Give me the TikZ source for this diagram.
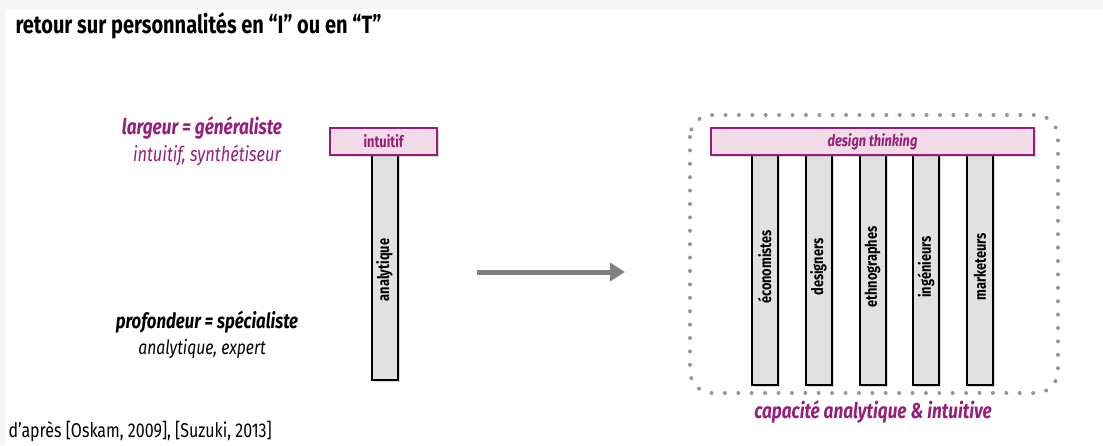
\documentclass[tikz,border=0pt]{standalone}
\usepackage{fontspec}
\setmainfont{Fira Sans}[FakeStretch=0.8]
\usepackage{tikz}
\usetikzlibrary{arrows.meta,shadows}

\definecolor{plum}{RGB}{150,30,120}
\definecolor{pinkfill}{RGB}{241,219,231}
\definecolor{stemgray}{RGB}{225,225,225}
\definecolor{arrowgray}{RGB}{128,128,131}
\definecolor{dotgray}{RGB}{150,150,152}

\begin{document}
\begin{tikzpicture}[x=1pt, y=-1pt,
    barbox/.style={draw=plum, line width=2.2pt, fill=pinkfill, minimum height=27, inner sep=0pt,
        drop shadow={shadow xshift=2pt, shadow yshift=-2pt, opacity=0.3}},
    stembox/.style={draw=black, line width=2pt, fill=stemgray, minimum width=26, inner sep=0pt,
        drop shadow={shadow xshift=2pt, shadow yshift=-2pt, opacity=0.3}},
    stemtext/.style={rotate=90, font=\fontsize{16}{19}\selectfont\bfseries},
    bigtext/.style={font=\fontsize{20}{24}\selectfont}]
    \useasboundingbox (0,0) rectangle (1103,445);
    \fill[black!4] (0,0) rectangle (1103,9);
    \fill[black!4] (0,9) rectangle (5,445);

    \node[anchor=base west, font=\fontsize{25}{30}\selectfont\bfseries] (title) at (12,33) {retour sur personnalités en “I” ou en “T”};

    % left: personality in T
    \node[bigtext, plum, font=\fontsize{21.5}{24}\selectfont\bfseries\itshape] (largeur) at (202,128) {largeur = généraliste};
    \node[bigtext, plum, font=\fontsize{20.5}{24}\selectfont\itshape] (synth) at (207,155) {intuitif, synthétiseur};
    \node[bigtext, font=\fontsize{21}{24}\selectfont\bfseries\itshape] (profondeur) at (207,322) {profondeur = spécialiste};
    \node[bigtext, font=\fontsize{19.6}{24}\selectfont\itshape] (expert) at (202,349) {analytique, expert};

    \node[stembox, minimum height=225] (analyt) at (384.5,267.5) {};
    \node[stemtext] at (384.5,270) {analytique};
    \node[barbox, minimum width=107, text=plum, font=\fontsize{16}{19}\selectfont\bfseries] (intuitif) at (383.5,141.5) {intuitif};

    % arrow
    \coordinate (from) at (477,272);
    \coordinate (to) at (625,272);
    \draw[arrowgray, line width=5pt, -{Triangle[length=15pt,width=18pt]}] (from) -- (to);

    % right: design thinking team
    \draw[dotgray, line width=4pt, line cap=round, dash pattern=on 0pt off 13.4pt, rounded corners=22pt] (690,115) rectangle (1058,393);
    \node[stembox, minimum height=230] (eco) at (764.5,270) {};
    \node[stemtext] at (764.5,267) {économistes};
    \node[stembox, minimum height=230] (des) at (818.5,270) {};
    \node[stemtext] at (818.5,267) {designers};
    \node[stembox, minimum height=230] (eth) at (872.5,270) {};
    \node[stemtext] at (872.5,267) {ethnographes};
    \node[stembox, minimum height=230] (ing) at (926,270) {};
    \node[stemtext] at (926,267) {ingénieurs};
    \node[stembox, minimum height=230] (mkt) at (980,270) {};
    \node[stemtext] at (980,267) {marketeurs};
    \node[barbox, minimum width=323, text=plum, font=\fontsize{16}{19}\selectfont\bfseries\itshape] (dt) at (872.5,141.5) {design thinking};
    \node[plum, font=\fontsize{21.5}{24}\selectfont\bfseries\itshape] (capacite) at (873,412) {capacité analytique \& intuitive};

    \node[anchor=base west, font=\fontsize{20}{23}\selectfont] (source) at (5,437) {d’après [Oskam, 2009], [Suzuki, 2013]};
\end{tikzpicture}
\end{document}
